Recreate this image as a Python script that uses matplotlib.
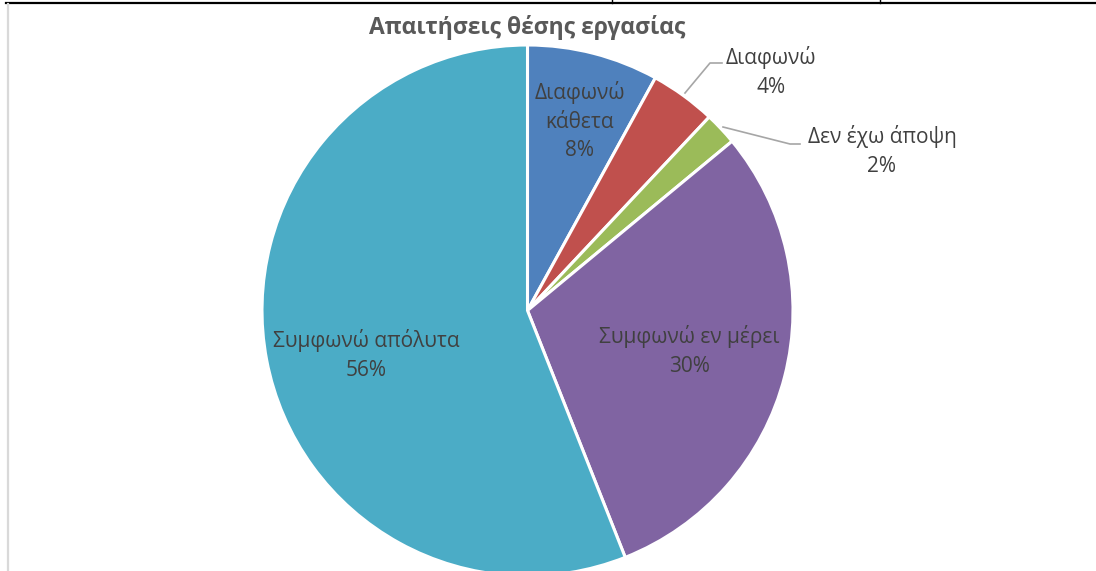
import matplotlib
matplotlib.use("Agg")
import matplotlib.pyplot as plt
from matplotlib.lines import Line2D

plt.rcParams['font.family'] = ['Open Sans', 'DejaVu Sans']

title = "Απαιτήσεις θέσης εργασίας"
categories = ["Διαφωνώ\nκάθετα", "Διαφωνώ", "Δεν έχω άποψη", "Συμφωνώ εν μέρει", "Συμφωνώ απόλυτα"]
values = [8, 4, 2, 30, 56]
colors = ["#4F81BD", "#C0504D", "#9BBB59", "#8064A2", "#4BACC6"]

W, H = 1096, 571
fig = plt.figure(figsize=(W / 100, H / 100), dpi=100)
ax = fig.add_axes([0, 0, 1, 1])

cx, cy, r = 527.5, H - 310.5, 265.5
wedges, _ = ax.pie(values, colors=colors, startangle=90, counterclock=False,
                   center=(cx, cy), radius=r, frame=True,
                   wedgeprops=dict(edgecolor="white", linewidth=2.2))
ax.set_xlim(0, W)
ax.set_ylim(0, H)
ax.set_aspect("equal")
ax.axis("off")

label_color = "#404040"
fs = 15
# label anchor points (pixel coordinates, y measured from top)
label_pos = [(580, 121), (771, 72), (882, 151), (689, 351), (366, 355)]
for name, v, (px, py) in zip(categories, values, label_pos):
    ax.text(px, H - py, f"{name}\n{v}%", ha="center", va="center",
            fontsize=fs, color=label_color, linespacing=1.5)

# leader lines for the two small outside labels
lead = "#A6A6A6"
ax.plot([685, 710, 722], [H - 93, H - 63, H - 63], color=lead, lw=1.2)
ax.plot([723, 790, 800], [H - 127, H - 144, H - 144], color=lead, lw=1.2)

ax.text(cx, H - 28, title, ha="center", va="center", fontsize=16.5,
        fontweight="bold", color="#595959")

# surrounding sheet borders
fig.add_artist(Line2D([6 / W, 1], [1 - 3 / H, 1 - 3 / H], color="black", lw=1.6,
                      transform=fig.transFigure))
for x in (612, 880):
    fig.add_artist(Line2D([x / W, x / W], [1 - 3 / H, 1], color="black", lw=1.0,
                          transform=fig.transFigure))
fig.add_artist(Line2D([7.5 / W, 7.5 / W], [0, 1 - 4 / H], color="#D9D9D9", lw=1.6,
                      transform=fig.transFigure))

fig.savefig("out.png", dpi=100)
